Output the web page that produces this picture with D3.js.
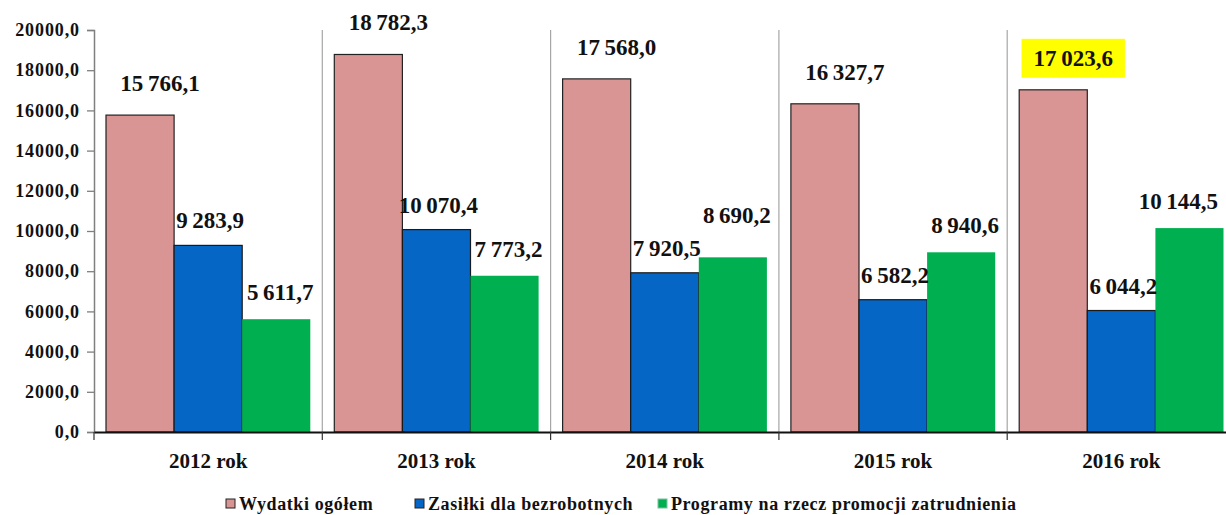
<!DOCTYPE html>
<html>
<head>
<meta charset="utf-8">
<script src="https://cdn.jsdelivr.net/npm/d3@7"></script>
<style>
  html, body { margin: 0; padding: 0; background: #fff; }
  svg { display: block; }
</style>
</head>
<body>
<svg id="chart" width="1226" height="515" font-family="Liberation Serif" font-weight="bold"></svg>
<script>
// Wydatki Funduszu Pracy 2012–2016 (mln zł)
const years = ["2012 rok", "2013 rok", "2014 rok", "2015 rok", "2016 rok"];
const seriesNames = ["Wydatki ogółem", "Zasiłki dla bezrobotnych", "Programy na rzecz promocji zatrudnienia"];
const wydatkiOgolem = [15766.1, 18782.3, 17568.0, 16327.7, 17023.6];
const zasilki = [9283.9, 10070.4, 7920.5, 6582.2, 6044.2];
const programy = [5611.7, 7773.2, 8690.2, 8940.6, 10144.5];
const yTicks = [0, 2000, 4000, 6000, 8000, 10000, 12000, 14000, 16000, 18000, 20000];
const highlighted = { series: 0, year: "2016 rok" };

const colors = ["#d99594", "#0566c6", "#00b050"];
const strokes = ["#222", "#1a1a1a", "none"];
const labelShift = [20, 2, 4];   // horizontal nudge of value labels per series
const labelGap = [24, 17, 19];   // distance from bar top to label baseline per series
const FONT = "Liberation Serif";

const W = 1226;
const svg = d3.select("#chart");
const plotLeft = 94, plotTop = 30, plotBottom = 432;
const bandW = 228.3;

const x = d3.scaleBand().domain(years).range([plotLeft, plotLeft + bandW * years.length]).padding(0);
const inner = d3.scaleBand().domain(d3.range(3)).range([12, x.bandwidth() - 12]).padding(0);
const y = d3.scaleLinear().domain([0, 20000]).range([plotBottom, plotTop]);

const fmt = v => {
  const s = v.toFixed(1).replace(".", ",");
  const [i, d] = s.split(",");
  return i.replace(/\B(?=(\d{3})+(?!\d))/g, "\u2009") + "," + d;
};
const tickFmt = v => v.toFixed(1).replace(".", ",");

// vertical separators between year groups
svg.append("g").selectAll("line")
  .data(years.map(yr => x(yr) + x.bandwidth()))
  .join("line")
  .attr("x1", d => d).attr("x2", d => d)
  .attr("y1", plotTop).attr("y2", plotBottom)
  .attr("stroke", "#a6a6a6").attr("stroke-width", 1.2);

// y axis
const yAxis = d3.axisLeft(y).tickValues(yTicks).tickFormat(tickFmt).tickSize(7).tickPadding(7);
const gy = svg.append("g").attr("transform", `translate(${plotLeft},0)`).call(yAxis);
gy.attr("font-family", FONT).attr("font-size", 18).attr("font-weight", "bold");
gy.select(".domain").attr("stroke", "#7f7f7f").attr("stroke-width", 1.5);
gy.selectAll(".tick line").attr("stroke", "#7f7f7f").attr("stroke-width", 1.3);
gy.selectAll(".tick text").attr("fill", "#111").attr("letter-spacing", "0.9px");

const data = [wydatkiOgolem, zasilki, programy];
const groups = svg.append("g").selectAll("g")
  .data(years)
  .join("g")
  .attr("transform", d => `translate(${x(d)},0)`);

// label backgrounds sit under the bars, so they only mask the separators
const labelBg = groups.append("g");

// bars
groups.append("g").selectAll("rect")
  .data((yr, yi) => data.map((arr, si) => ({ si, yr, v: arr[yi] })))
  .join("rect")
  .attr("x", d => inner(d.si))
  .attr("width", inner.bandwidth())
  .attr("y", d => y(d.v))
  .attr("height", d => y(0) - y(d.v))
  .attr("fill", d => colors[d.si])
  .attr("stroke", d => strokes[d.si])
  .attr("stroke-width", 1.2);

// x axis line and group ticks
const xAxis = d3.axisBottom(x).tickSize(0).tickPadding(21);
const gx = svg.append("g").attr("transform", `translate(0,${plotBottom})`).call(xAxis);
gx.attr("font-family", FONT).attr("font-size", 21).attr("font-weight", "bold");
gx.select(".domain").attr("stroke", "#111").attr("stroke-width", 2);
gx.selectAll(".tick text").attr("fill", "#111");
svg.append("g").selectAll("line")
  .data([plotLeft].concat(years.map(yr => x(yr) + x.bandwidth())))
  .join("line")
  .attr("x1", d => d).attr("x2", d => d)
  .attr("y1", plotBottom).attr("y2", plotBottom + 8)
  .attr("stroke", "#333").attr("stroke-width", 1.2);

// value labels: kept inside the drawing area and lifted when crowding a neighbour
groups.each(function (yr, yi) {
  const g = d3.select(this);
  const bg = labelBg.filter(d => d === yr);
  const gx0 = x(yr);
  let prev = null;
  data.forEach((arr, si) => {
    const v = arr[yi];
    let cx = inner(si) + inner.bandwidth() / 2 + labelShift[si];
    const isHi = highlighted.series === si && highlighted.year === yr;
    let by = y(v) - labelGap[si];
    const t = g.append("text")
      .attr("x", cx).attr("y", by)
      .attr("text-anchor", "middle")
      .attr("font-size", 23)
      .attr("fill", "#111")
      .text(fmt(v));
    let bb = t.node().getBBox();
    const overflow = gx0 + bb.x + bb.width - (W - 8);
    if (overflow > 0) { cx -= overflow; t.attr("x", cx); bb = t.node().getBBox(); }
    if (prev && bb.x < prev.x + prev.width + 8 &&
        bb.y < prev.y + prev.height && bb.y + bb.height > prev.y) {
      by -= (bb.y + bb.height) - prev.y + 8;
      t.attr("y", by);
      bb = t.node().getBBox();
    }
    prev = bb;
    const padX = isHi ? 12 : 3, padY = isHi ? 7 : 1;
    const box = isHi ? g.insert("rect", () => t.node()) : bg.append("rect");
    box.attr("x", bb.x - padX).attr("y", bb.y - padY)
      .attr("width", bb.width + padX * 2).attr("height", bb.height + padY * 2)
      .attr("fill", isHi ? "#ffff00" : "#fff");
  });
});

// legend
const legend = svg.append("g").attr("transform", "translate(0,510)");
const legendX = [226, 415, 658];
seriesNames.forEach((name, i) => {
  const lg = legend.append("g").attr("transform", `translate(${legendX[i]},0)`);
  lg.append("rect").attr("x", 0).attr("y", -11).attr("width", 9).attr("height", 9)
    .attr("fill", colors[i]).attr("stroke", i === 2 ? "#7fbf9f" : "#222").attr("stroke-width", 1);
  lg.append("text").attr("x", 13).attr("y", 0)
    .attr("font-size", 18).attr("letter-spacing", "0.6px").attr("fill", "#111")
    .text(name);
});
</script>
</body>
</html>
